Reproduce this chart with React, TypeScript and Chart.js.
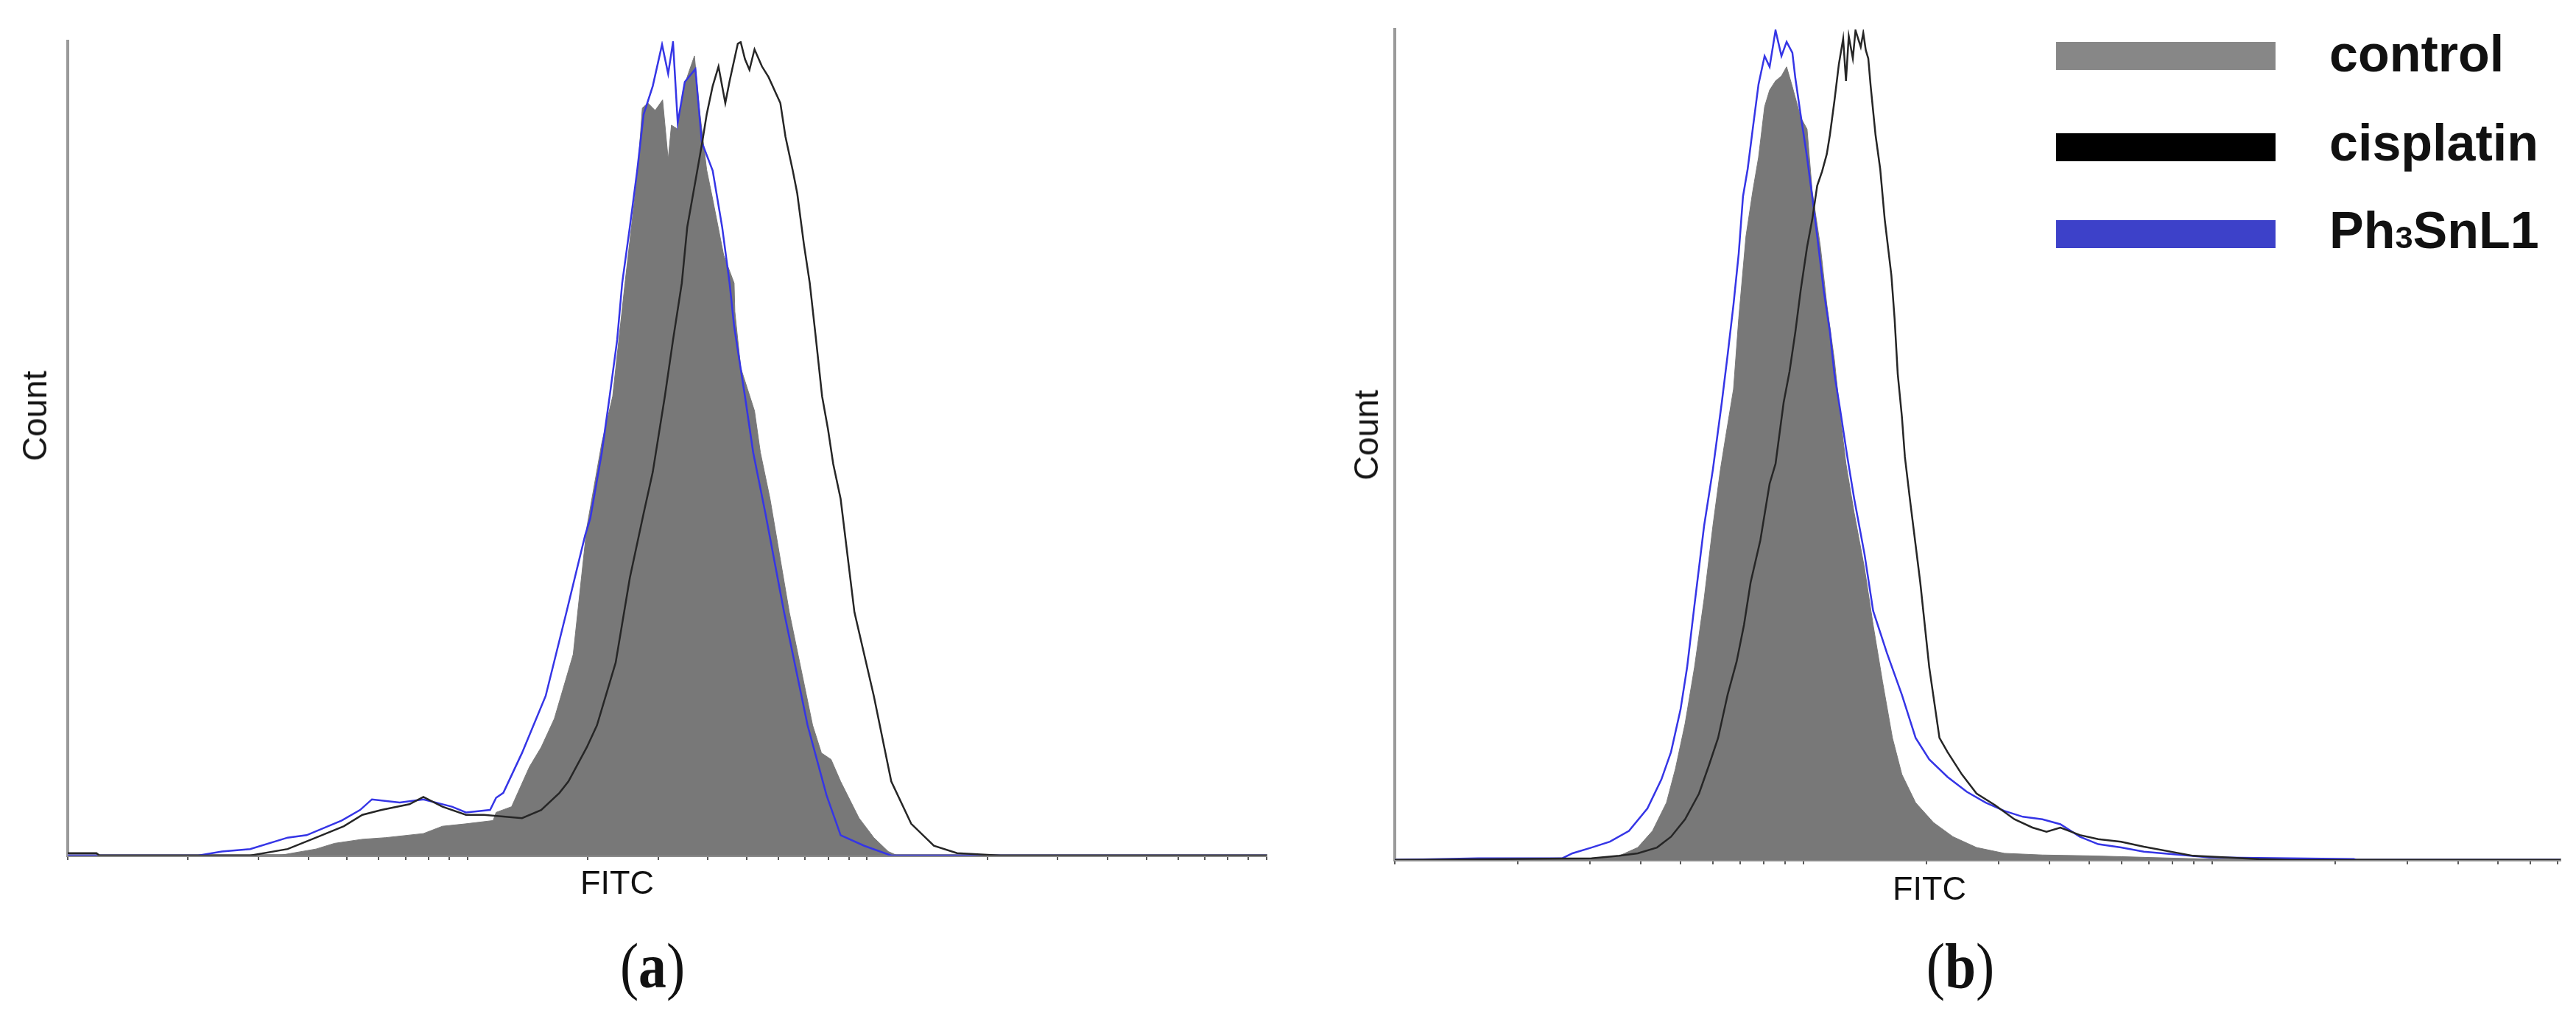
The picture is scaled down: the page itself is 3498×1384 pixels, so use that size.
import React, { useEffect, useRef } from "react";
import { Chart, registerables } from "chart.js";

Chart.register(...registerables);

// ---------- Panel (a) data (FITC value, % of max count) ----------
const A_CONTROL_X = [1, 3.37, 3.65, 4.18, 4.65, 5.46, 6.25, 7.76, 8.66, 9.92, 11.6, 11.8, 12.9, 14.3, 15.3, 16.5, 18.4, 19.9, 21.7, 23.1, 24.8, 26.7, 27.4, 28.3, 29.5, 30.8, 31.8, 32.4, 33.6, 34.7, 35.7, 37.0, 38.1, 39.7, 41.1, 43.8, 46.5, 46.7, 48.3, 52.3, 54.1, 57.2, 63.9, 73.1, 76.9, 81.3, 85.9, 95.5, 104, 113, 119, 1000];
const A_CONTROL_Y = [0, 0, 0.3, 0.8, 1.5, 2.0, 2.2, 2.7, 3.6, 3.9, 4.3, 5.3, 6.0, 10.9, 13.3, 16.8, 24.7, 40.3, 50.7, 56.4, 70.3, 84.1, 91.8, 92.4, 91.5, 92.8, 85.5, 89.7, 89.2, 94.2, 96.0, 98.2, 91.5, 84.2, 80.6, 73.7, 70.3, 66.8, 59.9, 54.6, 49.5, 43.8, 29.9, 16.0, 12.6, 11.8, 9.1, 4.6, 2.2, 0.5, 0, 0];

const A_BLUE_X = [1, 2.12, 2.43, 2.86, 3.55, 3.96, 4.85, 5.39, 5.77, 6.77, 7.76, 9.15, 9.92, 11.4, 11.8, 12.3, 13.7, 15.7, 17.7, 19.7, 20.3, 21.7, 22.7, 23.7, 24.4, 25.5, 26.6, 27.6, 29.1, 30.7, 31.8, 32.7, 33.6, 35.0, 37.2, 38.6, 41.1, 43.4, 45.3, 46.5, 49.5, 51.9, 55.7, 62.0, 71.0, 79.2, 85.9, 98.4, 115, 1000];
const A_BLUE_Y = [0, 0, 0.5, 0.8, 2.2, 2.5, 4.3, 5.6, 6.9, 6.5, 6.9, 6.0, 5.3, 5.6, 7.1, 7.7, 12.6, 19.6, 29.9, 39.3, 41.4, 49.5, 56.4, 63.3, 70.3, 77.2, 84.1, 91.0, 94.5, 99.6, 96.0, 99.9, 90.0, 95.0, 96.6, 87.6, 84.1, 77.2, 70.3, 65.0, 56.4, 49.5, 42.0, 29.9, 16.0, 7.4, 2.5, 1.2, 0, 0];

const A_CIS_X = [1, 1.18, 1.2, 2.86, 3.55, 4.18, 4.91, 5.46, 6.10, 7.16, 7.76, 8.66, 9.92, 11.0, 12.3, 13.7, 15.3, 17.0, 17.9, 19.9, 21.1, 23.5, 25.5, 27.6, 29.1, 31.2, 32.7, 34.4, 35.5, 37.6, 38.7, 39.7, 41.1, 42.5, 44.2, 45.3, 47.5, 48.3, 49.5, 50.8, 52.3, 54.6, 56.7, 60.7, 62.5, 65.2, 66.9, 69.5, 71.9, 74.3, 77.2, 79.9, 82.3, 85.9, 93.0, 104, 115, 129, 147, 168, 216, 1000];
const A_CIS_Y = [0.3, 0.3, 0, 0, 0.8, 2.2, 3.6, 5.0, 5.6, 6.3, 7.2, 6.0, 5.0, 5.0, 4.8, 4.6, 5.6, 7.7, 9.1, 13.3, 16.0, 23.7, 34.1, 42.0, 47.1, 56.4, 63.3, 70.3, 77.2, 84.1, 87.6, 91.0, 94.5, 96.9, 92.4, 95.1, 99.7, 99.9, 97.8, 96.5, 99.0, 96.9, 95.6, 92.4, 88.3, 84.1, 81.3, 75.1, 70.3, 64.0, 56.4, 52.3, 48.1, 43.8, 29.9, 19.6, 9.1, 3.9, 1.2, 0.3, 0, 0];

// ---------- Panel (b) data ----------
const B_CONTROL_X = [1, 3.03, 3.54, 3.93, 4.27, 4.62, 4.86, 5.13, 5.41, 5.71, 6.00, 6.26, 6.45, 6.74, 6.94, 7.23, 7.51, 7.76, 8.03, 8.26, 8.54, 8.83, 9.09, 9.39, 9.84, 10.2, 10.5, 11.0, 11.4, 11.9, 12.3, 12.7, 13.3, 14.1, 14.8, 15.6, 16.5, 17.4, 18.8, 20.8, 23.2, 26.5, 31.0, 38.4, 50.0, 59.8, 98, 105, 711];
const B_CONTROL_Y = [0, 0.2, 0.5, 1.5, 3.5, 6.9, 11.0, 16.4, 23.2, 31.4, 40.2, 47.0, 51.0, 56.7, 65.2, 75.1, 80.5, 84.6, 90.7, 92.7, 93.8, 94.4, 95.5, 93.1, 89.4, 88.0, 80.5, 73.8, 66.9, 60.2, 53.4, 47.7, 41.8, 35.1, 28.3, 21.5, 14.7, 10.3, 6.9, 4.5, 2.8, 1.5, 0.8, 0.6, 0.5, 0.4, 0.1, 0, 0];

const B_BLUE_X = [1, 1.6, 2.57, 2.72, 3.03, 3.36, 3.74, 4.15, 4.49, 4.74, 5.00, 5.19, 5.41, 5.71, 6.00, 6.31, 6.52, 6.74, 6.94, 7.11, 7.30, 7.51, 7.76, 8.03, 8.26, 8.54, 8.83, 9.09, 9.39, 9.55, 9.84, 10.2, 10.5, 10.8, 11.2, 11.6, 11.9, 12.3, 12.8, 13.3, 14.1, 14.8, 16.0, 17.4, 18.8, 20.3, 22.5, 25.1, 27.9, 31.0, 34.4, 38.4, 42.5, 47.4, 52.6, 59.8, 68.0, 98.4, 222, 225, 711];
const B_BLUE_Y = [0, 0.2, 0.2, 0.8, 1.5, 2.2, 3.5, 6.2, 9.7, 13.0, 18.1, 23.2, 30.7, 40.2, 47.0, 55.1, 60.8, 66.9, 73.0, 79.9, 83.2, 88.0, 93.4, 96.8, 95.5, 99.9, 96.8, 98.5, 97.2, 94.1, 89.7, 84.6, 79.9, 75.1, 68.6, 63.6, 58.5, 54.1, 48.5, 43.5, 36.8, 30.0, 24.9, 19.9, 14.7, 12.1, 10.0, 8.2, 6.9, 5.9, 5.2, 4.9, 4.3, 2.8, 1.9, 1.5, 1.0, 0.3, 0.1, 0, 0];

const B_CIS_X = [1, 3.03, 3.54, 3.93, 4.38, 4.74, 5.13, 5.55, 5.86, 6.18, 6.52, 6.86, 7.15, 7.42, 7.84, 8.26, 8.54, 8.94, 9.24, 9.55, 9.84, 10.2, 10.5, 10.8, 11.1, 11.4, 11.6, 11.9, 12.2, 12.5, 12.7, 12.9, 13.2, 13.4, 13.8, 14.0, 14.2, 14.4, 14.6, 15.0, 15.4, 15.8, 16.4, 16.7, 17.0, 17.4, 17.7, 18.2, 19.3, 20.3, 21.5, 22.5, 24.4, 26.5, 29.4, 32.8, 36.3, 39.3, 42.5, 47.4, 52.6, 59.8, 68.0, 89.8, 130, 156, 711];
const B_CIS_Y = [0, 0.2, 0.5, 0.8, 1.5, 2.8, 4.9, 8.0, 11.3, 14.7, 19.9, 23.9, 28.3, 33.4, 38.5, 45.3, 47.7, 55.1, 58.8, 63.6, 68.6, 73.8, 77.1, 81.2, 82.9, 85.0, 87.3, 91.4, 95.8, 98.9, 93.8, 99.2, 96.5, 99.9, 97.9, 99.6, 97.5, 96.5, 93.1, 87.3, 83.2, 77.1, 70.4, 65.2, 58.5, 53.4, 48.5, 43.5, 33.4, 23.2, 14.7, 13.0, 10.3, 8.0, 6.6, 4.9, 3.9, 3.4, 3.9, 3.0, 2.5, 2.2, 1.6, 0.5, 0.1, 0, 0];

// ---------- Axis tick values (log FITC axis, no labels) ----------
const A_TICKS = [1, 2, 3, 4, 5, 6, 7, 8, 9, 10, 20, 30, 40, 50, 60, 70, 80, 90, 100, 200, 300, 400, 500, 600, 700, 800, 900, 1000];
const B_TICKS = [1, 2, 3, 4, 5, 6, 7, 8, 9, 10, 20, 30, 40, 50, 60, 70, 80, 90, 100, 200, 300, 400, 500, 600, 700];
const A_X_MAX = 1000;
const B_X_MAX = 711;

const SERIES_NAMES = ["control", "cisplatin", "Ph3SnL1"];
const COLORS = { control: "#787878", cisplatin: "#262626", blue: "#3535e6" };

const toPoints = (xs: number[], ys: number[]) => xs.map((x, i) => ({ x, y: ys[i] }));

type PanelProps = {
  left: number;
  width: number;
  height: number;
  areaLeft: number;
  areaRight: number;
  areaTop: number;
  areaBottom: number;
  xMax: number;
  ticks: number[];
  control: [number[], number[]];
  cis: [number[], number[]];
  blue: [number[], number[]];
};

const X_SCALE_H = 30;

function Panel(p: PanelProps) {
  const ref = useRef<HTMLCanvasElement | null>(null);
  useEffect(() => {
    if (!ref.current) return;
    const chart = new Chart(ref.current, {
      type: "line",
      data: {
        datasets: [
          {
            label: SERIES_NAMES[1],
            data: toPoints(p.cis[0], p.cis[1]),
            borderColor: COLORS.cisplatin,
            borderWidth: 2.5,
            pointRadius: 0,
            fill: false,
            tension: 0,
            order: 1,
          },
          {
            label: SERIES_NAMES[2],
            data: toPoints(p.blue[0], p.blue[1]),
            borderColor: COLORS.blue,
            borderWidth: 2.5,
            pointRadius: 0,
            fill: false,
            tension: 0,
            order: 2,
          },
          {
            label: SERIES_NAMES[0],
            data: toPoints(p.control[0], p.control[1]),
            borderColor: COLORS.control,
            backgroundColor: COLORS.control,
            borderWidth: 1,
            pointRadius: 0,
            fill: "origin",
            tension: 0,
            order: 3,
          },
        ],
      },
      options: {
        responsive: false,
        maintainAspectRatio: false,
        animation: false,
        events: [],
        layout: {
          padding: {
            left: p.areaLeft,
            top: p.areaTop,
            right: p.width - p.areaRight,
            bottom: p.height - p.areaBottom - X_SCALE_H,
          },
        },
        plugins: { legend: { display: false }, tooltip: { enabled: false }, title: { display: false } },
        scales: {
          x: {
            type: "logarithmic",
            position: "bottom",
            min: 1,
            max: p.xMax,
            afterBuildTicks: (s: any) => {
              s.ticks = p.ticks.map((v) => ({ value: v }));
            },
            afterFit: (s: any) => {
              s.height = X_SCALE_H;
            },
            ticks: { display: false },
            grid: { display: true, drawOnChartArea: false, drawTicks: true, tickLength: 6, color: "#5a5a5a", lineWidth: 2 },
            border: { display: true, color: "#8a8a8a", width: 4 },
          },
          y: {
            type: "linear",
            min: 0,
            max: 100,
            afterFit: (s: any) => {
              s.width = 0;
            },
            ticks: { display: false },
            grid: { display: false },
            border: { display: true, color: "#9a9a9a", width: 4 },
          },
        },
      } as any,
    });
    return () => chart.destroy();
  }, []);
  return (
    <canvas
      ref={ref}
      width={p.width}
      height={p.height}
      style={{ position: "absolute", left: p.left, top: 0, width: p.width, height: p.height }}
    />
  );
}

const sans = '"Liberation Sans", Arial, Helvetica, sans-serif';
const serif = '"Liberation Serif", "Times New Roman", serif';

function Text({ x, baseline, size, children, bold, font, rotate, center, scaleX }: any) {
  const fam = font || sans;
  const asc = fam === serif ? 0.8375 : 0.8465;
  if (rotate) {
    return (
      <div
        style={{
          position: "absolute",
          left: x,
          top: baseline,
          transform: "translate(-50%, -50%) rotate(-90deg)",
          fontFamily: fam,
          fontSize: size,
          lineHeight: 1,
          color: "#151515",
          whiteSpace: "nowrap",
        }}
      >
        {children}
      </div>
    );
  }
  return (
    <div
      style={{
        position: "absolute",
        left: x,
        top: baseline - asc * size,
        transform: `${center ? "translateX(-50%)" : ""} ${scaleX ? `scaleX(${scaleX})` : ""}`,
        transformOrigin: "center",
        fontFamily: fam,
        fontSize: size,
        fontWeight: bold ? 700 : 400,
        lineHeight: 1,
        color: "#111",
        whiteSpace: "nowrap",
      }}
    >
      {children}
    </div>
  );
}

function Swatch({ top, color }: { top: number; color: string }) {
  return <div style={{ position: "absolute", left: 2792, top, width: 298, height: 38, background: color }} />;
}

export default function App() {
  return (
    <div style={{ position: "absolute", left: 0, top: 0, width: 3498, height: 1384, background: "#fff", overflow: "hidden" }}>
      <Panel
        left={0}
        width={1749}
        height={1384}
        areaLeft={92}
        areaRight={1720}
        areaTop={56}
        areaBottom={1162}
        xMax={A_X_MAX}
        ticks={A_TICKS}
        control={[A_CONTROL_X, A_CONTROL_Y]}
        cis={[A_CIS_X, A_CIS_Y]}
        blue={[A_BLUE_X, A_BLUE_Y]}
      />
      <Panel
        left={1749}
        width={1749}
        height={1384}
        areaLeft={1894 - 1749}
        areaRight={3477 - 1749}
        areaTop={40}
        areaBottom={1168}
        xMax={B_X_MAX}
        ticks={B_TICKS}
        control={[B_CONTROL_X, B_CONTROL_Y]}
        cis={[B_CIS_X, B_CIS_Y]}
        blue={[B_BLUE_X, B_BLUE_Y]}
      />

      <Text x={47} baseline={565} size={46} rotate>Count</Text>
      <Text x={1855} baseline={591} size={46} rotate>Count</Text>
      <Text x={838} baseline={1214} size={45} center>FITC</Text>
      <Text x={2620} baseline={1222} size={45} center>FITC</Text>
      <Text x={886} baseline={1341} size={86} font={serif} center scaleX={0.88}>
        (<b>a</b>)
      </Text>
      <Text x={2662} baseline={1341} size={86} font={serif} center scaleX={0.88}>
        (<b>b</b>)
      </Text>

      <Swatch top={57} color="#878787" />
      <Swatch top={181} color="#000000" />
      <Swatch top={299} color="#3d41c9" />
      <Text x={3163} baseline={97} size={70} bold>control</Text>
      <Text x={3163} baseline={218} size={70} bold>cisplatin</Text>
      <Text x={3163} baseline={337} size={70} bold>
        Ph<span style={{ fontSize: "0.62em" }}>3</span>SnL1
      </Text>
    </div>
  );
}
